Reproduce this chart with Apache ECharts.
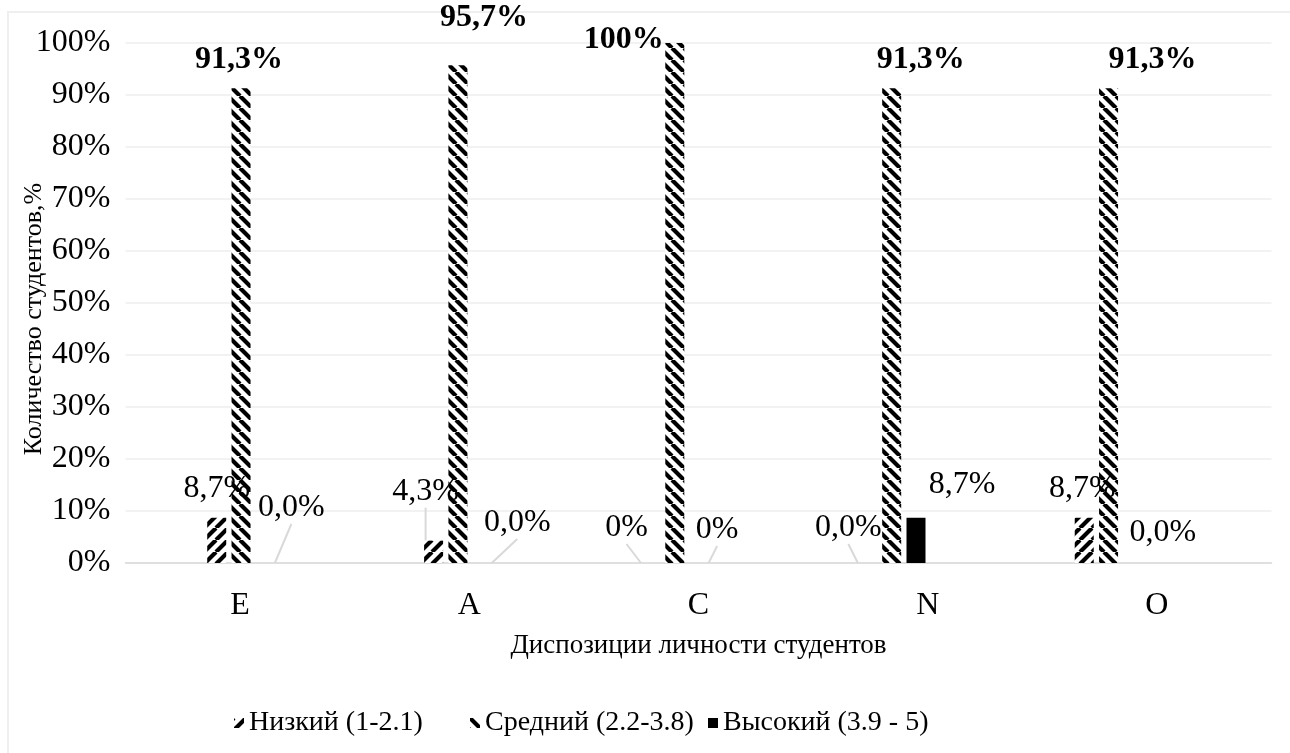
<!DOCTYPE html>
<html>
<head>
<meta charset="utf-8">
<script src="https://cdn.jsdelivr.net/npm/echarts@6/dist/echarts.min.js"></script>
<style>
  html, body { margin: 0; padding: 0; background: #ffffff; }
  #chart { width: 1290px; height: 753px; }
</style>
</head>
<body>
<div id="chart"></div>
<script>
// Categories (personality dispositions) and the share of students per level, %
const categories = ['E', 'A', 'C', 'N', 'O'];
const seriesNames = ['Низкий (1-2.1)', 'Средний (2.2-3.8)', 'Высокий (3.9 - 5)'];
const lowValues = [8.7, 4.3, 0, 0, 8.7];
const midValues = [91.3, 95.7, 100, 91.3, 91.3];
const highValues = [0, 0, 0, 8.7, 0];
// Value labels as printed on the chart
const lowLabels = ['8,7%', '4,3%', '0%', '0,0%', '8,7%'];
const midLabels = ['91,3%', '95,7%', '100%', '91,3%', '91,3%'];
const highLabels = ['0,0%', '0,0%', '0%', '8,7%', '0,0%'];
// Y axis tick labels
const yTickLabels = ['0%', '10%', '20%', '30%', '40%', '50%', '60%', '70%', '80%', '90%', '100%'];

const FONT = '"Liberation Serif", "Times New Roman", serif';

// Label placement relative to the top-centre of each bar: [dx, dy, leader line]
const lowPlace = [[0, -29, false], [-8, -49, true], [-24, -35, true], [-19, -35, true], [-2, -29, false]];
const midPlace = [[-2, -29, false], [26, -48, false], [-51, -3, false], [29, -29, false], [44, -29, false]];
const highPlace = [[26, -55, true], [35, -40, true], [18, -33, true], [46, -33, false], [30, -30, false]];

// Legend entries sit in equal-width slots
const legendSlots = [234, 470, 708];

// Hatch fills
function hatch(dir) {
  const s = 12;
  const c = document.createElement('canvas');
  c.width = s; c.height = s;
  const g = c.getContext('2d');
  g.fillStyle = '#ffffff';
  g.fillRect(0, 0, s, s);
  g.strokeStyle = '#000000';
  g.lineWidth = 4.2;
  g.beginPath();
  for (let o = -s; o <= s; o += s) {
    if (dir === 'down') { g.moveTo(o, 0); g.lineTo(o + s, s); }
    else { g.moveTo(o, s); g.lineTo(o + s, 0); }
  }
  g.stroke();
  return { image: c, repeat: 'repeat' };
}
const lowFill = hatch('up');
const midFill = hatch('down');
const highFill = '#000000';

function buildData(values, labels, place, bold) {
  return values.map((v, i) => ({
    value: v,
    label: { formatter: labels[i], fontWeight: bold ? 'bold' : 'normal' },
    labelLine: { show: place[i][2] }
  }));
}

function layoutFor(place) {
  return function (p) {
    const pl = place[p.dataIndex];
    return {
      x: p.rect.x + p.rect.width / 2 + pl[0],
      y: p.rect.y + pl[1],
      align: 'center',
      verticalAlign: 'middle'
    };
  };
}

function makeSeries(name, values, labels, place, fill, bold) {
  return {
    name: name,
    type: 'bar',
    xAxisIndex: 1,
    yAxisIndex: 1,
    barWidth: 19,
    barGap: '28%',
    itemStyle: { color: fill },
    data: buildData(values, labels, place, bold),
    label: {
      show: true,
      position: 'top',
      color: '#000000',
      fontFamily: FONT,
      fontSize: 32
    },
    labelLine: { show: true, lineStyle: { color: '#d9d9d9', width: 2 } },
    labelLayout: layoutFor(place),
    animation: false
  };
}

const legends = seriesNames.map((name, i) => ({
  data: [name],
  bottom: 16,
  left: legendSlots[i],
  padding: 0,
  itemWidth: 10,
  itemHeight: 10,
  icon: 'rect',
  textStyle: { fontFamily: FONT, fontSize: 28, color: '#000000' }
}));

const chart = echarts.init(document.getElementById('chart'), null, { renderer: 'canvas' });
chart.setOption({
  backgroundColor: '#ffffff',
  animation: false,
  graphic: [{
    type: 'rect',
    shape: { x: 8, y: 12, width: 1300, height: 760 },
    style: { fill: 'none', stroke: '#efefef', lineWidth: 2 },
    silent: true
  }],
  legend: legends,
  grid: [
    { left: 125.5, right: 18.5, top: 43, bottom: 190, outerBoundsMode: 'none' },
    { left: 132.6, right: 73, top: 43, bottom: 190, outerBoundsMode: 'none' }
  ],
  xAxis: [
    {
      gridIndex: 0,
      type: 'category',
      data: categories,
      axisTick: { show: false },
      axisLine: { lineStyle: { color: '#d9d9d9', width: 1.5 } },
      axisLabel: { color: '#000000', fontFamily: FONT, fontSize: 32, margin: 27 },
      name: 'Диспозиции личности студентов',
      nameLocation: 'middle',
      nameGap: 69,
      nameMoveOverlap: false,
      nameTextStyle: { color: '#000000', fontFamily: FONT, fontSize: 27 }
    },
    { gridIndex: 1, type: 'category', data: categories, show: false }
  ],
  yAxis: [
    {
      gridIndex: 0,
      type: 'value',
      min: 0,
      max: 100,
      interval: 10,
      axisLine: { show: false },
      axisTick: { show: false },
      splitLine: { lineStyle: { color: '#eeeeee', width: 1.5 } },
      axisLabel: {
        color: '#000000', fontFamily: FONT, fontSize: 32, margin: 15,
        formatter: v => yTickLabels[Math.round(v / 10)]
      },
      name: 'Количество студентов,%',
      nameLocation: 'middle',
      nameGap: 78,
      nameMoveOverlap: false,
      nameTextStyle: { color: '#000000', fontFamily: FONT, fontSize: 26, padding: [0, 32, 0, 0] }
    },
    { gridIndex: 1, type: 'value', min: 0, max: 100, interval: 10, show: false }
  ],
  series: [
    makeSeries(seriesNames[0], lowValues, lowLabels, lowPlace, lowFill, false),
    makeSeries(seriesNames[1], midValues, midLabels, midPlace, midFill, true),
    makeSeries(seriesNames[2], highValues, highLabels, highPlace, highFill, false)
  ]
});
</script>
</body>
</html>
